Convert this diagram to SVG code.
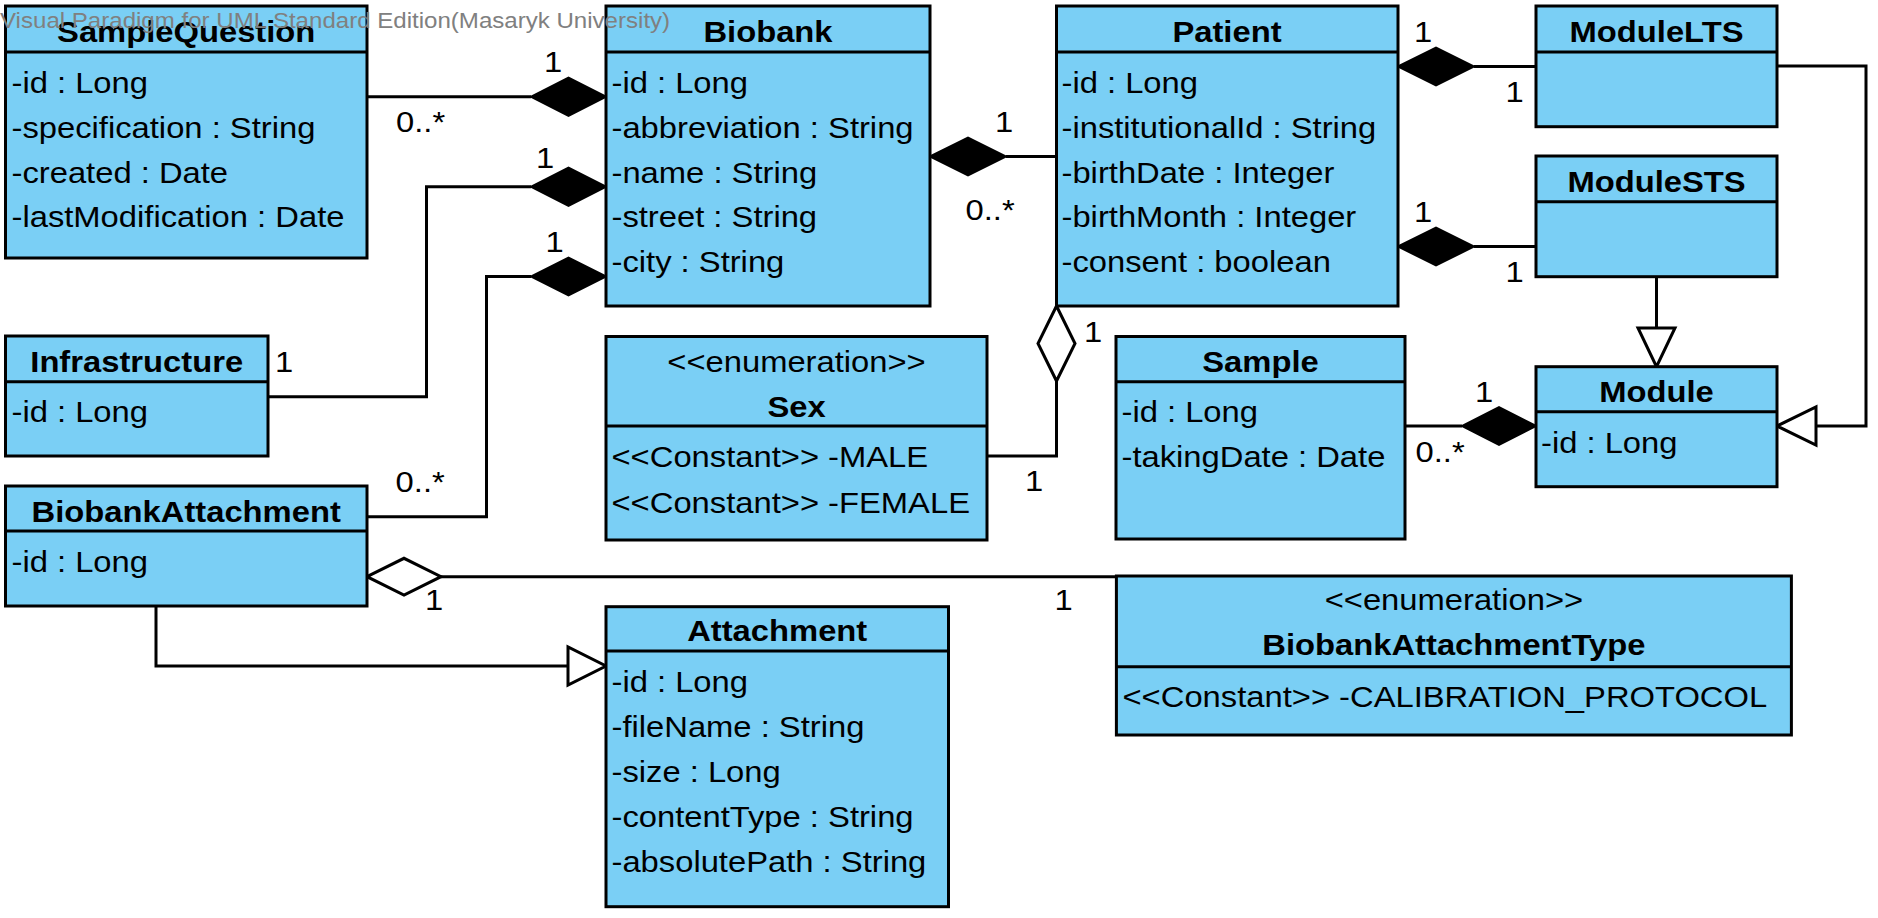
<svg xmlns="http://www.w3.org/2000/svg" width="1878" height="918" viewBox="0 0 1878 918">
<style>
.box{fill:#7ACFF5;stroke:#000;stroke-width:3}
.sep{stroke:#000;stroke-width:3}
.t{font-family:"Liberation Sans",Arial,sans-serif;font-size:29.5px;fill:#000}
.b{font-weight:bold}
.c{text-anchor:middle}
.ln{fill:none;stroke:#000;stroke-width:3}
.fd{fill:#000;stroke:#000;stroke-width:2}
.hd{fill:#fff;stroke:#000;stroke-width:3}
.wm{font-family:"Liberation Sans",Arial,sans-serif;font-size:21.7px;fill:#808080}
</style>
<rect width="1878" height="918" fill="#fff"/>
<g id="connectors">
<polyline class="ln" points="367,96.7 531,96.7"/>
<polygon class="fd" points="606,96.7 568.5,77.5 531,96.7 568.5,116"/>
<polyline class="ln" points="268,396.7 426.5,396.7 426.5,186.7 531,186.7"/>
<polygon class="fd" points="606,186.7 568.5,167.5 531,186.7 568.5,206"/>
<polyline class="ln" points="367,516.7 486.5,516.7 486.5,276.5 531,276.5"/>
<polygon class="fd" points="606,276.5 568.5,257.5 531,276.5 568.5,295.5"/>
<polyline class="ln" points="1006,156.5 1056.5,156.5"/>
<polygon class="fd" points="930,156.5 968,137.5 1006,156.5 968,175.5"/>
<polyline class="ln" points="1056.5,381 1056.5,456 987,456"/>
<polygon class="hd" points="1056.5,306 1038,343.5 1056.5,381 1075,343.5"/>
<polyline class="ln" points="1474,66.5 1536,66.5"/>
<polygon class="fd" points="1398,66.5 1436,47.5 1474,66.5 1436,85.5"/>
<polyline class="ln" points="1474,246.5 1536,246.5"/>
<polygon class="fd" points="1398,246.5 1436,227.5 1474,246.5 1436,265.5"/>
<polyline class="ln" points="1656.5,276.7 1656.5,328"/>
<polygon class="hd" points="1638,328 1675,328 1656.5,366.7"/>
<polyline class="ln" points="1777,66 1866,66 1866,426 1816,426"/>
<polygon class="hd" points="1816,407 1816,445 1777,426"/>
<polyline class="ln" points="1405,426 1462,426"/>
<polygon class="fd" points="1536,426 1499,407 1462,426 1499,445"/>
<polyline class="ln" points="441,576.7 1116,576.7"/>
<polygon class="hd" points="367,576.7 404,558.3 441,576.7 404,595"/>
<polyline class="ln" points="156,606 156,666 568,666"/>
<polygon class="hd" points="568,647 568,685 606,666"/>
<text class="t" transform="translate(544,71.7) scale(1.11,1)">1</text>
<text class="t" transform="translate(396,131.7) scale(1.11,1)">0..*</text>
<text class="t" transform="translate(536,168) scale(1.11,1)">1</text>
<text class="t" transform="translate(275,371.7) scale(1.11,1)">1</text>
<text class="t" transform="translate(545.6,251.7) scale(1.11,1)">1</text>
<text class="t" transform="translate(395.6,491.7) scale(1.11,1)">0..*</text>
<text class="t" transform="translate(995,131.7) scale(1.11,1)">1</text>
<text class="t" transform="translate(965.5,220) scale(1.11,1)">0..*</text>
<text class="t" transform="translate(1084,341.7) scale(1.11,1)">1</text>
<text class="t" transform="translate(1025,490.7) scale(1.11,1)">1</text>
<text class="t" transform="translate(1414,41.7) scale(1.11,1)">1</text>
<text class="t" transform="translate(1505.5,101.7) scale(1.11,1)">1</text>
<text class="t" transform="translate(1414,221.7) scale(1.11,1)">1</text>
<text class="t" transform="translate(1505.5,281.7) scale(1.11,1)">1</text>
<text class="t" transform="translate(1475,401.7) scale(1.11,1)">1</text>
<text class="t" transform="translate(1415.5,461.7) scale(1.11,1)">0..*</text>
<text class="t" transform="translate(425,610) scale(1.11,1)">1</text>
<text class="t" transform="translate(1054.5,610) scale(1.11,1)">1</text>
</g>
<g id="SampleQuestion">
<rect class="box" x="5.5" y="6" width="361.5" height="252"/>
<line class="sep" x1="5.5" y1="52" x2="367" y2="52"/>
<text class="t b c" transform="translate(186.2,42) scale(1.11,1)">SampleQuestion</text>
<text class="t" transform="translate(11.5,93) scale(1.11,1)">-id : Long</text>
<text class="t" transform="translate(11.5,137.8) scale(1.11,1)">-specification : String</text>
<text class="t" transform="translate(11.5,182.6) scale(1.11,1)">-created : Date</text>
<text class="t" transform="translate(11.5,227.4) scale(1.11,1)">-lastModification : Date</text>
</g>
<g id="Biobank">
<rect class="box" x="606" y="6" width="324" height="300"/>
<line class="sep" x1="606" y1="52" x2="930" y2="52"/>
<text class="t b c" transform="translate(768,42) scale(1.11,1)">Biobank</text>
<text class="t" transform="translate(611.5,93) scale(1.11,1)">-id : Long</text>
<text class="t" transform="translate(611.5,137.8) scale(1.11,1)">-abbreviation : String</text>
<text class="t" transform="translate(611.5,182.6) scale(1.11,1)">-name : String</text>
<text class="t" transform="translate(611.5,227.4) scale(1.11,1)">-street : String</text>
<text class="t" transform="translate(611.5,272.2) scale(1.11,1)">-city : String</text>
</g>
<g id="Patient">
<rect class="box" x="1056.5" y="6" width="341.5" height="300"/>
<line class="sep" x1="1056.5" y1="52" x2="1398" y2="52"/>
<text class="t b c" transform="translate(1227,42) scale(1.11,1)">Patient</text>
<text class="t" transform="translate(1061.5,93) scale(1.11,1)">-id : Long</text>
<text class="t" transform="translate(1061.5,137.8) scale(1.11,1)">-institutionalId : String</text>
<text class="t" transform="translate(1061.5,182.6) scale(1.11,1)">-birthDate : Integer</text>
<text class="t" transform="translate(1061.5,227.4) scale(1.11,1)">-birthMonth : Integer</text>
<text class="t" transform="translate(1061.5,272.2) scale(1.11,1)">-consent : boolean</text>
</g>
<g id="ModuleLTS">
<rect class="box" x="1536" y="6" width="241" height="120.7"/>
<line class="sep" x1="1536" y1="52" x2="1777" y2="52"/>
<text class="t b c" transform="translate(1656.5,42) scale(1.11,1)">ModuleLTS</text>
</g>
<g id="ModuleSTS">
<rect class="box" x="1536" y="156" width="241" height="120.7"/>
<line class="sep" x1="1536" y1="201.7" x2="1777" y2="201.7"/>
<text class="t b c" transform="translate(1656.5,191.7) scale(1.11,1)">ModuleSTS</text>
</g>
<g id="Module">
<rect class="box" x="1536" y="366.7" width="241" height="120"/>
<line class="sep" x1="1536" y1="411.7" x2="1777" y2="411.7"/>
<text class="t b c" transform="translate(1656.5,401.7) scale(1.11,1)">Module</text>
<text class="t" transform="translate(1541,452.7) scale(1.11,1)">-id : Long</text>
</g>
<g id="Infrastructure">
<rect class="box" x="5.5" y="336" width="262.5" height="120"/>
<line class="sep" x1="5.5" y1="381.7" x2="268" y2="381.7"/>
<text class="t b c" transform="translate(136.7,371.7) scale(1.11,1)">Infrastructure</text>
<text class="t" transform="translate(11.5,421.7) scale(1.11,1)">-id : Long</text>
</g>
<g id="BiobankAttachment">
<rect class="box" x="5.5" y="486" width="361.5" height="120"/>
<line class="sep" x1="5.5" y1="531" x2="367" y2="531"/>
<text class="t b c" transform="translate(186.2,521.7) scale(1.11,1)">BiobankAttachment</text>
<text class="t" transform="translate(11.5,571.7) scale(1.11,1)">-id : Long</text>
</g>
<g id="Sex">
<rect class="box" x="606" y="336.5" width="381" height="203.5"/>
<line class="sep" x1="606" y1="426" x2="987" y2="426"/>
<text class="t c" transform="translate(796.5,371.7) scale(1.11,1)">&lt;&lt;enumeration&gt;&gt;</text>
<text class="t b c" transform="translate(796.5,416.7) scale(1.11,1)">Sex</text>
<text class="t" transform="translate(611.5,466.7) scale(1.11,1)">&lt;&lt;Constant&gt;&gt; -MALE</text>
<text class="t" transform="translate(611.5,512.7) scale(1.11,1)">&lt;&lt;Constant&gt;&gt; -FEMALE</text>
</g>
<g id="Sample">
<rect class="box" x="1116" y="336.5" width="289" height="202.5"/>
<line class="sep" x1="1116" y1="381.7" x2="1405" y2="381.7"/>
<text class="t b c" transform="translate(1260.5,371.7) scale(1.11,1)">Sample</text>
<text class="t" transform="translate(1121.5,421.7) scale(1.11,1)">-id : Long</text>
<text class="t" transform="translate(1121.5,466.7) scale(1.11,1)">-takingDate : Date</text>
</g>
<g id="Attachment">
<rect class="box" x="606" y="606.7" width="342.5" height="300"/>
<line class="sep" x1="606" y1="651" x2="948.5" y2="651"/>
<text class="t b c" transform="translate(777.2,641) scale(1.11,1)">Attachment</text>
<text class="t" transform="translate(611.5,691.7) scale(1.11,1)">-id : Long</text>
<text class="t" transform="translate(611.5,736.7) scale(1.11,1)">-fileName : String</text>
<text class="t" transform="translate(611.5,781.7) scale(1.11,1)">-size : Long</text>
<text class="t" transform="translate(611.5,826.7) scale(1.11,1)">-contentType : String</text>
<text class="t" transform="translate(611.5,871.7) scale(1.11,1)">-absolutePath : String</text>
</g>
<g id="BiobankAttachmentType">
<rect class="box" x="1116.4" y="576" width="675" height="159"/>
<line class="sep" x1="1116.4" y1="666.7" x2="1791.4" y2="666.7"/>
<text class="t c" transform="translate(1453.9,610) scale(1.11,1)">&lt;&lt;enumeration&gt;&gt;</text>
<text class="t b c" transform="translate(1453.9,655) scale(1.11,1)">BiobankAttachmentType</text>
<text class="t" transform="translate(1122.5,706.7) scale(1.11,1)">&lt;&lt;Constant&gt;&gt; -CALIBRATION_PROTOCOL</text>
</g>
<g id="watermark">
<text class="wm" transform="translate(0,28) scale(1.11,1)">Visual Paradigm for UML Standard Edition(Masaryk University)</text>
</g>
</svg>
